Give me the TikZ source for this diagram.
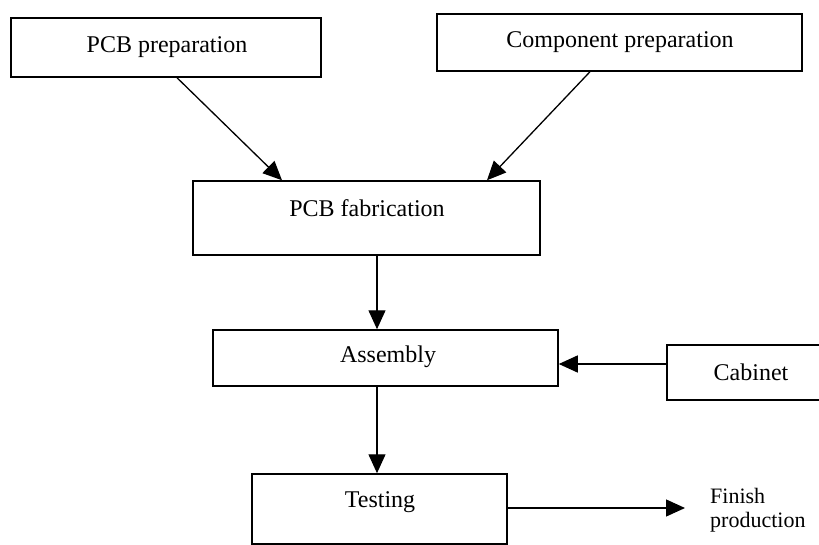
\documentclass[tikz,border=0pt]{standalone}
\usepackage{fontspec}
\setmainfont{Liberation Serif}
\usetikzlibrary{arrows.meta}
\begin{document}
\begin{tikzpicture}[x=1pt,y=-1pt,
  box/.style={draw, line width=1.5pt, inner sep=0pt},
  lbl/.style={font=\fontsize{24}{28}\selectfont, inner sep=0pt},
  arr/.style={line width=1.3pt, -{Triangle[length=19pt,width=17pt]}}]
\useasboundingbox (0,0) rectangle (819,545);
% process boxes
\node[box, minimum width=310pt, minimum height=59pt] (pcbprep) at (166,47.5) {};
\node[box, minimum width=365pt, minimum height=57pt] (compprep) at (619.5,42.5) {};
\node[box, minimum width=347pt, minimum height=74pt] (fab) at (366.5,218) {};
\node[box, minimum width=345pt, minimum height=56pt] (assembly) at (385.5,358) {};
\node[box, minimum width=155pt, minimum height=55pt] (cabinet) at (744.5,372.5) {};
\node[box, minimum width=255pt, minimum height=70pt] (testing) at (379.5,509) {};
% labels
\node[lbl] (pcbpreptxt) at (167,47) {PCB preparation};
\node[lbl] (compprept) at (620,42) {Component preparation};
\node[lbl] (fabtxt) at (367,208) {PCB fabrication};
\node[lbl] (assemblytxt) at (388,357) {Assembly};
\node[lbl] (cabinettxt) at (751,372) {Cabinet};
\node[lbl] (testingtxt) at (380,502) {Testing};
\node[lbl, anchor=west, align=left, font=\fontsize{22}{24}\selectfont] (finishtxt) at (710,510) {Finish\\production};
% connectors
\draw[arr] ([xshift=11pt]pcbprep.south) -- ([xshift=-84.5pt]fab.north);
\draw[arr] ([xshift=-29.5pt]compprep.south) -- ([xshift=120.5pt]fab.north);
\draw[arr] ([xshift=10.5pt]fab.south) -- ([xshift=-8.5pt]assembly.north);
\coordinate (cabin) at ([yshift=8.5pt]cabinet.west);
\draw[arr] (cabin) -- (cabin -| assembly.east);
\draw[arr] ([xshift=-8.5pt]assembly.south) -- ([xshift=-2.5pt]testing.north);
\coordinate (testout) at ([yshift=1pt]testing.east);
\coordinate (finishtip) at (685,508);
\draw[arr] (testout) -- (finishtip);
\end{tikzpicture}
\end{document}
